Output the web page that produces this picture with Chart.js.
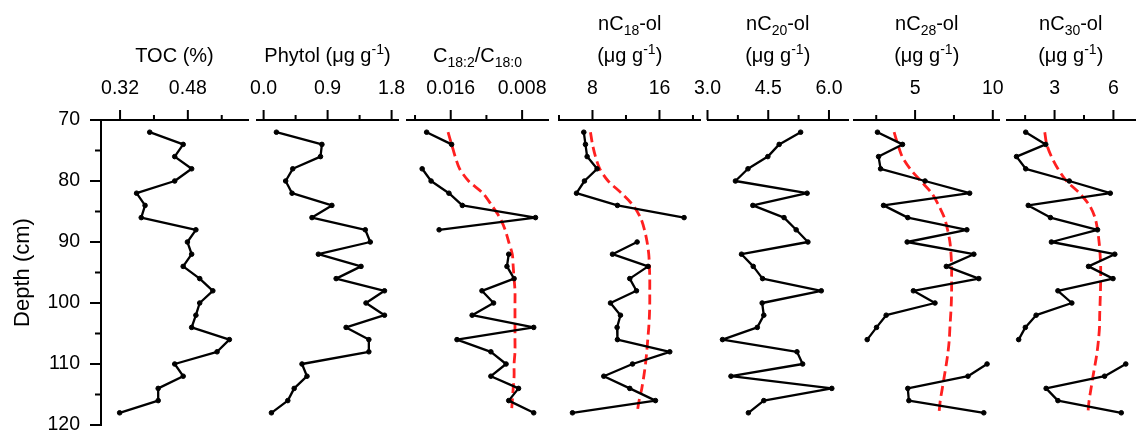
<!DOCTYPE html>
<html lang="en">
<head>
<meta charset="UTF-8">
<title>Depth profiles</title>
<script src="https://cdn.jsdelivr.net/npm/chart.js"></script>
<style>
  body { margin: 0; background: #fff; }
  #wrap { position: relative; width: 1140px; height: 432px; overflow: hidden; font-family: 'Liberation Sans', Arial, sans-serif; }
  #wrap canvas { position: absolute; left: 0; top: 0; }
  .ttl { position: absolute; width: 200px; text-align: center; font-size: 20px; line-height: 32px; color: #000; white-space: nowrap; }
  .ttl sub, .ttl sup { font-size: 14px; line-height: 0; }
</style>
</head>
<body>
<div id="wrap"></div>
<script>
// sampling depths (cm)
const depth = [72, 74, 76, 78, 80, 82, 84, 86, 88, 90, 92, 94, 96, 98, 100, 102, 104, 106, 108, 110, 112, 114, 116, 118];

const toc = [0.390, 0.469, 0.449, 0.489, 0.449, 0.359, 0.379, 0.370, 0.499, 0.479, 0.489, 0.469,
             0.508, 0.539, 0.508, 0.499, 0.489, 0.578, 0.549, 0.449, 0.469, 0.410, 0.410, 0.319];
const phytol = [0.18, 0.82, 0.80, 0.41, 0.31, 0.40, 0.96, 0.68, 1.43, 1.50, 0.77, 1.37,
                1.02, 1.70, 1.44, 1.70, 1.16, 1.48, 1.48, 0.54, 0.61, 0.43, 0.34, 0.11];
const c18Ratio = [0.0187, 0.0159, null, 0.0192, 0.0182, 0.0162, 0.0147, 0.0065, 0.0173, null, 0.0095, 0.0097,
                  0.0089, 0.0125, 0.0112, 0.0136, 0.0067, 0.0153, 0.0115, 0.0098, 0.0115, 0.0084, 0.0095, 0.0067];
const c18RatioTrend = [0.0163, 0.0159, 0.0155, 0.0150, 0.0140, 0.0124, 0.0114, 0.0105, 0.0099, 0.0095, 0.0091, 0.0090,
                       0.0089, 0.0088, 0.0088, 0.0088, 0.0088, 0.0088, 0.0088, 0.0089, 0.0089, 0.0090, 0.0091, 0.0092];
const c18ol = [6.96, 7.16, 7.36, 8.55, 7.04, 6.09, 10.98, 18.94, null, 13.33, 10.39, 14.64,
               12.45, 13.25, 10.15, 11.34, 10.94, 10.98, 17.23, 12.78, 9.35, 12.45, 15.52, 5.61];
const c18olTrend = [7.76, 8.00, 8.36, 8.87, 9.87, 11.46, 12.85, 13.73, 14.21, 14.52, 14.72, 14.80,
                    14.84, 14.84, 14.84, 14.80, 14.72, 14.60, 14.48, 14.33, 14.13, 13.89, 13.57, 13.33];
const c20ol = [5.30, 4.77, 4.49, 4.00, 3.69, 5.46, 4.12, 4.89, 5.19, 5.48, 3.84, 4.13,
               4.36, 5.81, 4.35, 4.39, 4.23, 3.37, 5.21, 5.35, 3.58, 6.07, 4.39, 4.01];
const c28ol = [2.58, 4.19, 2.65, 2.78, 5.64, 8.51, 2.97, 4.53, 8.33, 4.49, 8.78, 7.01,
               9.10, 4.89, 6.28, 3.14, 2.52, 1.92, null, 9.63, 8.40, 4.53, 4.60, 9.42];
const c28olTrend = [3.65, 3.89, 4.17, 4.68, 5.37, 6.07, 6.52, 6.88, 7.09, 7.24, 7.31, 7.35,
                    7.35, 7.35, 7.33, 7.29, 7.24, 7.20, 7.12, 7.01, 6.88, 6.75, 6.62, 6.54];
const c30ol = [1.53, 2.55, 1.06, 1.53, 3.75, 5.84, 1.66, 2.79, 5.19, 2.84, 6.07, 4.73,
               5.98, 3.17, 3.88, 2.06, 1.51, 1.17, null, 6.63, 5.55, 2.57, 3.17, 6.40];
const c30olTrend = [2.50, 2.60, 2.84, 3.17, 3.61, 4.27, 4.78, 5.06, 5.19, 5.27, 5.32, 5.35,
                    5.35, 5.34, 5.32, 5.30, 5.29, 5.24, 5.17, 5.07, 4.96, 4.86, 4.76, 4.70];

// axis ticks
const depthTicks = [70, 80, 90, 100, 110, 120];
const depthTickLabels = ['70', '80', '90', '100', '110', '120'];
const depthMinor = [75, 85, 95, 105, 115];
const tocTicks = [0.32, 0.48], tocTickLabels = ['0.32', '0.48'], tocMinor = [0.40, 0.56];
const phytolTicks = [0, 0.9, 1.8], phytolTickLabels = ['0.0', '0.9', '1.8'], phytolMinor = [0.45, 1.35];
const ratioTicks = [0.016, 0.008], ratioTickLabels = ['0.016', '0.008'], ratioMinor = [0.020, 0.012];
const c18Ticks = [8, 16], c18TickLabels = ['8', '16'], c18Minor = [4, 12, 20];
const c20Ticks = [3, 4.5, 6], c20TickLabels = ['3.0', '4.5', '6.0'], c20Minor = [3.75, 5.25];
const c28Ticks = [5, 10], c28TickLabels = ['5', '10'], c28Minor = [2.5, 7.5];
const c30Ticks = [3, 6], c30TickLabels = ['3', '6'], c30Minor = [1.5, 4.5];

const unit = '(μg g<sup>-1</sup>)';
const panels = [
  { left: 101, right: 248, title: 'TOC (%)', series: toc, trend: null,
    min: 0.275, max: 0.622, major: tocTicks, labels: tocTickLabels, minor: tocMinor },
  { left: 257, right: 398, title: 'Phytol ' + unit, series: phytol, trend: null,
    min: -0.093, max: 1.89, major: phytolTicks, labels: phytolTickLabels, minor: phytolMinor },
  { left: 407, right: 548, title: 'C<sub>18:2</sub>/C<sub>18:0</sub>', series: c18Ratio, trend: c18RatioTrend,
    min: 0.0051, max: 0.0209, reverse: true, major: ratioTicks, labels: ratioTickLabels, minor: ratioMinor },
  { left: 559, right: 700.5, title: 'nC<sub>18</sub>-ol<br>' + unit, series: c18ol, trend: c18olTrend,
    min: 4.0, max: 20.9, major: c18Ticks, labels: c18TickLabels, minor: c18Minor },
  { left: 707.5, right: 848, title: 'nC<sub>20</sub>-ol<br>' + unit, series: c20ol, trend: null,
    min: 3.0, max: 6.47, major: c20Ticks, labels: c20TickLabels, minor: c20Minor },
  { left: 854, right: 999.5, title: 'nC<sub>28</sub>-ol<br>' + unit, series: c28ol, trend: c28olTrend,
    min: 1.07, max: 10.43, major: c28Ticks, labels: c28TickLabels, minor: c28Minor },
  { left: 1006.5, right: 1140, title: 'nC<sub>30</sub>-ol<br>' + unit, series: c30ol, trend: c30olTrend,
    min: 0.55, max: 7.1, major: c30Ticks, labels: c30TickLabels, minor: c30Minor }
];

const FONT = "'Liberation Sans', Arial, sans-serif";
const wrap = document.getElementById('wrap');

function labelFor(vals, labels, v) {
  const i = vals.findIndex(m => Math.abs(m - v) < 1e-9);
  return i >= 0 ? labels[i] : '';
}

// major / minor tick marks drawn off the chart's own scales
function tickMarks(p, withDepth) {
  return {
    id: 'tickMarks',
    afterDraw(chart) {
      const { ctx, chartArea: a, scales } = chart;
      ctx.save();
      ctx.strokeStyle = '#000';
      ctx.lineWidth = 2;
      ctx.beginPath();
      const xs = (vals, len) => vals.forEach(v => {
        const px = scales.x.getPixelForValue(v);
        ctx.moveTo(px, a.top);
        ctx.lineTo(px, a.top - len);
      });
      xs(p.major, 10);
      xs(p.minor, 5);
      if (withDepth) {
        const ys = (vals, len) => vals.forEach(v => {
          const py = scales.y.getPixelForValue(v);
          ctx.moveTo(a.left, py);
          ctx.lineTo(a.left - len, py);
        });
        ys(depthTicks, 11);
        ys(depthMinor, 6);
      }
      ctx.stroke();
      ctx.restore();
    }
  };
}

panels.forEach((p, k) => {
  const first = k === 0;
  const canvas = document.createElement('canvas');
  canvas.width = 1140;
  canvas.height = 432;
  wrap.appendChild(canvas);

  const datasets = [{
    data: depth.map((d, i) => ({ x: p.series[i], y: d })),
    borderColor: '#000',
    backgroundColor: '#000',
    borderWidth: 2.3,
    borderJoinStyle: 'round',
    borderCapStyle: 'round',
    pointRadius: 2.3,
    pointBorderWidth: 1,
    spanGaps: false,
    clip: false
  }];
  if (p.trend) {
    datasets.push({
      data: depth.map((d, i) => ({ x: p.trend[i], y: d })),
      borderColor: '#ff2020',
      borderWidth: 2.8,
      borderDash: [10, 5],
      pointRadius: 0,
      tension: 0.3,
      clip: false
    });
  }

  const chart = new Chart(canvas, {
    type: 'line',
    data: { datasets },
    options: {
      responsive: false,
      animation: false,
      indexAxis: 'y',
      layout: { padding: { left: first ? 0 : p.left, right: 1140 - p.right, top: 0, bottom: 7 } },
      plugins: { legend: { display: false }, tooltip: { enabled: false } },
      scales: {
        x: {
          type: 'linear',
          position: 'top',
          min: p.min,
          max: p.max,
          reverse: !!p.reverse,
          afterFit: s => { s.height = 120; s.paddingLeft = 0; s.paddingRight = 0; },
          afterBuildTicks: s => {
            s.ticks = [...p.major, ...p.minor].sort((a, b) => a - b).map(v => ({ value: v }));
          },
          grid: { drawOnChartArea: false, drawTicks: true, tickLength: 10, tickColor: 'rgba(0,0,0,0)' },
          border: { display: true, color: '#000', width: 2 },
          ticks: {
            autoSkip: false, maxRotation: 0, padding: 10, color: '#000',
            font: { family: FONT, size: 19.5 },
            callback: v => labelFor(p.major, p.labels, v)
          }
        },
        y: {
          type: 'linear',
          position: 'left',
          display: first,
          min: 70,
          max: 120,
          reverse: true,
          afterFit: s => {
            s.width = first ? 101 : 0;
            s.paddingTop = 0;
            s.paddingBottom = 0;
          },
          afterBuildTicks: s => {
            s.ticks = [...depthTicks, ...depthMinor].sort((a, b) => a - b).map(v => ({ value: v }));
          },
          grid: { drawOnChartArea: false, drawTicks: true, tickLength: 11, tickColor: 'rgba(0,0,0,0)' },
          border: { display: true, color: '#000', width: 2 },
          ticks: {
            autoSkip: false, padding: 10, color: '#000',
            font: { family: FONT, size: 19.5 },
            callback: v => labelFor(depthTicks, depthTickLabels, v)
          },
          title: {
            display: true, text: 'Depth (cm)', color: '#000',
            font: { family: FONT, size: 22 }, padding: { top: 10, bottom: 0 }
          }
        }
      }
    },
    plugins: [tickMarks(p, first)]
  });

  // panel heading as html text so sub/superscripts stay real text
  const a = chart.chartArea;
  const lines = p.title.split('<br>').length;
  const t = document.createElement('div');
  t.className = 'ttl';
  t.innerHTML = p.title;
  t.style.left = ((a.left + a.right) / 2 - 100) + 'px';
  t.style.top = (55 - 16 - (lines - 1) * 32) + 'px';
  wrap.appendChild(t);
});
</script>
</body>
</html>
